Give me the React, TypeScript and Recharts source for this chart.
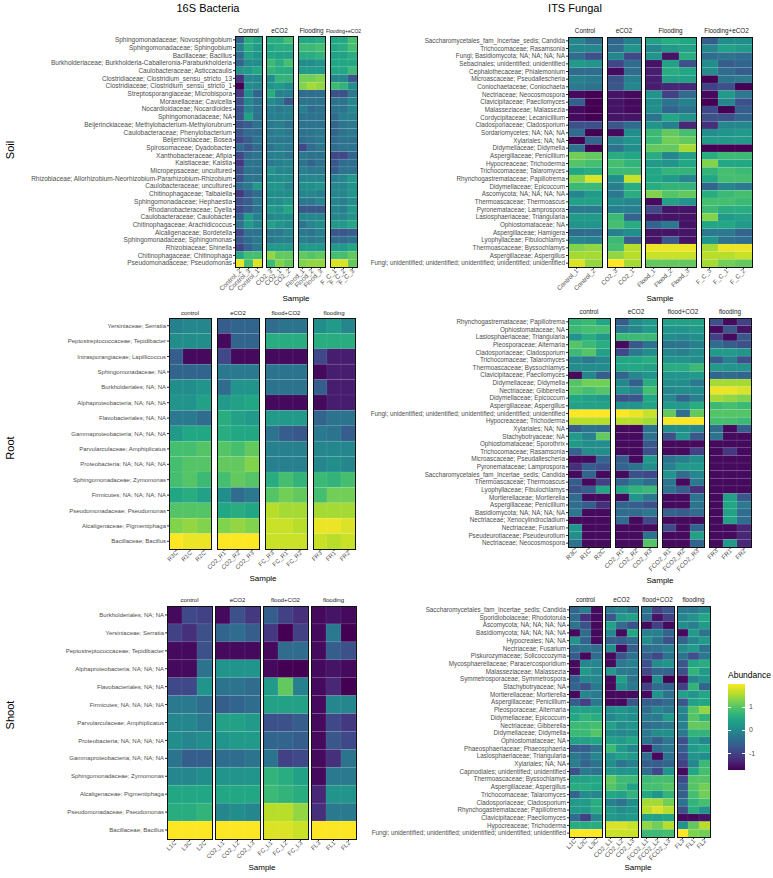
import { BarChart, Bar, XAxis, YAxis, Cell } from "recharts";

const FONT = "'Liberation Sans', Arial, Helvetica, sans-serif";

// ---------- facet names ----------
const soilFacets = ["Control", "eCO2", "Flooding", "Flooding+eCO2"];
const plantFacets = ["control", "eCO2", "flood+CO2", "flooding"];

// ---------- 16S soil ----------
const soil16sRows = [
  "Sphingomonadaceae; Novosphingobium", "Sphingomonadaceae; Sphingobium", "Bacillaceae; Bacillus",
  "Burkholderiaceae; Burkholderia-Caballeronia-Paraburkholderia", "Caulobacteraceae; Asticcacaulis",
  "Clostridiaceae; Clostridium_sensu_stricto_13", "Clostridiaceae; Clostridium_sensu_stricto_1",
  "Streptosporangiaceae; Microbispora", "Moraxellaceae; Cavicella", "Nocardioidaceae; Nocardioides",
  "Sphingomonadaceae; NA", "Beijerinckiaceae; Methylobacterium-Methylorubrum", "Caulobacteraceae; Phenylobacterium",
  "Beijerinckiaceae; Bosea", "Spirosomaceae; Dyadobacter", "Xanthobacteraceae; Afipia", "Kaistiaceae; Kaistia",
  "Micropepsaceae; uncultured", "Rhizobiaceae; Allorhizobium-Neorhizobium-Pararhizobium-Rhizobium",
  "Caulobacteraceae; uncultured", "Chitinophagaceae; Taibaiella", "Sphingomonadaceae; Hephaestia",
  "Rhodanobacteraceae; Dyella", "Caulobacteraceae; Caulobacter", "Chitinophagaceae; Arachidicoccus",
  "Alcaligenaceae; Bordetella", "Sphingomonadaceae; Sphingomonas", "Rhizobiaceae; Shinella",
  "Chitinophagaceae; Chitinophaga", "Pseudomonadaceae; Pseudomonas",
];
const soil16sSamples = ["Control_2", "Control_3", "Control_1", "CO2_3", "CO2_1", "CO2_2", "Flood_1", "Flood_2", "Flood_3", "F_C_1", "F_C_2", "F_C_3"];
const soil16sGroups = [3, 3, 3, 3];
const soil16sValues = [
  [-0.5, 0.6, 0.4, 0.6, 0.6, 0.9, 0.5, 0.5, 0.6, 0.5, 0.5, 0.9],
  [-0.1, 0.6, 0.3, 0.5, 0.6, 0.6, 0.8, 0.8, 0.9, 0.5, 0.6, 0.9],
  [-0.4, 0.4, 0.2, 0.5, 0.4, 0.4, 0.6, 0.6, 0.7, 0.4, 0.4, 0.6],
  [-0.5, 0.1, 0.1, 0.8, 0.6, 0.9, 0.1, 0.1, 0.2, 0.5, 0.5, 0.5],
  [0.2, 0.3, 0.5, 0.7, 0.6, 0.6, 0.3, 0.3, 0.3, 0.5, 0.5, 0.8],
  [-1.2, 0.0, 0.0, 0.1, 0.7, 0.7, 1.2, 1.2, 1.3, 0.0, 0.0, -0.7],
  [-1.7, 0.1, 0.0, 0.2, 0.3, 0.1, 1.3, 1.5, 1.4, 0.8, 0.7, 0.1],
  [-1.1, 0.1, -0.5, 0.6, -0.1, -0.1, -0.4, -0.4, -0.4, -0.8, -0.8, -0.2],
  [-0.8, 0.0, -0.3, 0.1, -0.1, -0.7, -0.3, -0.3, -0.3, -0.3, -0.3, 0.0],
  [-0.8, 0.0, -0.3, -0.1, -0.2, -0.1, -0.1, -0.4, -0.3, -0.3, -0.3, 0.0],
  [-0.7, 0.4, -0.3, -0.1, -0.1, -0.1, -0.3, -0.3, -0.3, -0.4, -0.1, -0.1],
  [-0.8, -0.6, -0.3, -0.2, -0.1, -0.3, -0.3, -0.3, -0.3, -0.5, -0.3, -0.2],
  [-0.7, -0.4, -0.4, -0.2, -0.1, -0.2, -0.3, -0.3, -0.2, -0.5, -0.3, -0.2],
  [-0.9, -0.6, -0.3, -0.2, -0.2, -0.2, -0.4, -0.3, -0.2, -0.4, -0.3, -0.3],
  [-0.4, -0.7, -0.4, -0.3, -0.1, -0.2, -0.9, -0.4, -0.2, -0.4, -0.3, -0.3],
  [-0.9, -0.4, -0.3, -0.1, -0.1, -0.2, -0.2, -0.3, -0.3, -0.9, -0.9, -0.5],
  [-1.1, -0.3, -0.3, -0.2, -0.1, 0.0, -0.3, -0.5, -0.3, -0.7, -0.4, -0.4],
  [-0.8, -0.3, -0.3, 0.2, 0.0, 0.0, -0.1, -0.2, -0.2, -0.6, -0.3, -0.3],
  [-0.8, -0.3, -0.3, 0.1, 0.1, 0.1, 0.0, 0.0, 0.0, -0.1, 0.0, 0.3],
  [-0.4, -0.2, 0.3, 0.2, 0.2, 0.0, 0.1, 0.1, 0.2, 0.0, 0.0, 0.2],
  [-1.1, -0.6, -0.4, 0.1, 0.1, 0.1, 0.0, 0.0, -0.1, 0.0, 0.0, 0.2],
  [-0.8, -0.6, -0.2, 0.1, 0.1, 0.3, -0.2, -0.2, 0.0, 0.0, -0.1, 0.1],
  [-0.9, -0.6, -0.3, 0.3, 0.2, 0.5, -0.7, -0.7, -0.7, 0.0, -0.1, 0.3],
  [-0.5, 0.3, -0.1, 0.0, 0.1, 0.1, 0.0, 0.0, 0.0, 0.0, 0.0, 0.2],
  [-0.3, 0.3, 0.0, 0.4, 0.2, 0.1, -0.3, 0.0, 0.1, 0.3, 0.3, 0.5],
  [-0.9, -0.3, -0.3, -0.2, -0.2, 0.0, -0.2, -0.3, -0.1, -0.7, -0.7, -0.6],
  [-0.7, -0.4, -0.2, -0.2, -0.1, -0.1, -0.1, -0.2, -0.1, -0.4, -0.4, -0.3],
  [-1.0, -0.5, -0.2, 0.3, 0.3, 0.3, 0.3, 0.3, 0.3, 0.3, 0.3, 0.5],
  [0.5, 0.9, 0.9, 1.4, 1.1, 1.1, 1.1, 1.0, 1.1, 0.9, 0.9, 1.1],
  [1.9, 0.9, 1.8, 0.8, 1.3, 1.1, 1.3, 1.4, 1.4, 1.8, 1.8, 1.1],
];

// ---------- ITS soil ----------
const soilItsRows = [
  "Saccharomycetales_fam_Incertae_sedis; Candida", "Trichocomaceae; Rasamsonia", "Fungi; Basidiomycota; NA; NA; NA; NA",
  "Sebacinales; unidentified; unidentified", "Cephalothecaceae; Phialemonium", "Microascaceae; Pseudallescheria",
  "Coniochaetaceae; Coniochaeta", "Nectriaceae; Neocosmospora", "Clavicipitaceae; Paecilomyces",
  "Malasseziaceae; Malassezia", "Cordycipitaceae; Lecanicillium", "Cladosporiaceae; Cladosporium",
  "Sordariomycetes; NA; NA; NA", "Xylariales; NA; NA", "Didymellaceae; Didymella", "Aspergillaceae; Penicillium",
  "Hypocreaceae; Trichoderma", "Trichocomaceae; Talaromyces", "Rhynchogastremataceae; Papiliotrema",
  "Didymellaceae; Epicoccum", "Ascomycota; NA; NA; NA; NA", "Thermoascaceae; Thermoascus",
  "Pyronemataceae; Lamprospora", "Lasiosphaeriaceae; Triangularia", "Ophiostomataceae; NA",
  "Aspergillaceae; Hamigera", "Lyophyllaceae; Fibulochlamys", "Thermoascaceae; Byssochlamys",
  "Aspergillaceae; Aspergillus", "Fungi; unidentified; unidentified; unidentified; unidentified; unidentified",
];
const soilItsSamples = ["Control_1", "Control_2", "CO2_3", "CO2_1", "Flood_1", "Flood_2", "Flood_3", "F_C_3", "F_C_1", "F_C_2"];
const soilItsGroups = [2, 2, 3, 3];
const soilItsValues = [
  [0.0, -0.4, -0.5, -0.1, 0.4, 0.6, 0.5, -0.6, 0.1, 0.1],
  [0.0, 0.0, -0.4, 0.2, 0.0, 0.3, 0.4, 0.0, 0.4, 0.3],
  [-0.4, -0.8, 0.0, -0.9, 0.2, -1.5, 0.6, -0.4, -0.3, -0.4],
  [0.3, 0.2, -0.9, -0.4, -1.5, 0.4, -0.8, 0.1, -0.6, -0.5],
  [-0.4, -0.4, -1.6, -0.4, -1.4, 0.6, 0.5, 0.1, -0.4, -0.6],
  [-0.1, -0.2, -0.8, -0.1, -1.4, 0.4, 0.4, -1.7, -0.3, -0.2],
  [-0.2, -0.3, -0.7, 0.0, -1.4, -1.3, -1.3, -1.0, -0.8, -1.7],
  [-1.6, -1.7, -1.5, -1.6, 0.2, -1.0, -0.4, -1.6, 0.3, -0.2],
  [-0.6, -1.7, -1.5, -1.6, 0.1, -0.3, -0.1, -1.7, 0.0, -0.8],
  [-1.6, -1.7, -1.5, -1.6, 0.1, -0.5, -0.3, -0.9, -1.7, -0.6],
  [-1.6, -1.7, -1.5, -1.5, -0.3, 0.5, 0.2, -0.8, -0.8, -0.5],
  [-0.8, -0.8, -0.7, -0.4, 0.2, -0.1, -1.3, -1.2, 0.0, 0.0],
  [-0.4, -1.7, -1.6, 0.1, 0.8, 1.1, 0.9, 0.1, 0.2, 0.3],
  [-1.7, -0.5, 0.0, 0.2, 0.8, 1.2, 1.1, 0.3, 0.3, 0.3],
  [-0.3, -1.7, -0.3, 0.1, 1.1, 1.1, 1.5, -1.7, -1.7, -1.7],
  [1.2, 1.1, 0.6, 0.5, 0.6, 0.0, 0.4, 0.6, 0.8, 0.8],
  [1.0, 0.9, 0.9, 0.7, 0.3, 0.2, 0.5, 1.3, 0.5, 0.5],
  [0.5, 0.6, 0.8, 0.8, 0.5, 0.7, 0.7, 0.7, 0.9, 0.8],
  [1.3, 1.8, 0.1, 1.7, 0.5, 0.3, 0.0, 0.5, 0.9, 0.9],
  [0.8, 0.8, -0.1, 0.6, 0.6, 0.7, 0.7, -0.5, 0.0, -0.2],
  [0.0, 0.3, -0.2, 0.6, 1.3, 1.0, 1.1, 0.6, 0.8, 0.9],
  [0.4, 0.4, 0.1, 0.0, -1.6, 0.4, 0.2, 0.9, 0.9, 0.8],
  [-0.2, -0.2, -0.1, -0.1, -0.9, -1.5, -1.5, 0.8, 0.6, 0.6],
  [0.3, 0.3, 0.8, -0.5, -1.5, -1.5, -1.5, 1.3, 0.3, 0.4],
  [0.2, 0.2, 0.9, 0.6, -0.5, -0.2, -1.5, 0.5, 0.5, 0.3],
  [-0.4, -0.4, -0.1, 0.1, -1.5, -1.5, -1.5, -0.2, -0.2, -0.5],
  [0.0, -0.1, 0.8, -0.6, -1.5, -0.7, -1.5, 0.2, -0.3, -0.4],
  [1.3, 1.4, 0.9, 1.6, 1.9, 1.9, 1.9, 1.5, 1.9, 1.9],
  [1.5, 1.5, 1.4, 1.6, 1.7, 1.7, 1.7, 1.6, 1.6, 1.7],
  [1.8, 1.4, 2.0, 1.5, 1.1, 1.1, 1.1, 1.5, 1.2, 1.1],
];

// ---------- 16S root ----------
const root16sRows = [
  "Yersiniaceae; Serratia", "Peptostreptococcaceae; Tepidibacter", "Intrasporangiaceae; Lapillicoccus",
  "Sphingomonadaceae; NA", "Burkholderiales; NA; NA", "Alphaproteobacteria; NA; NA; NA", "Flavobacteriales; NA; NA",
  "Gammaproteobacteria; NA; NA; NA", "Parvularculaceae; Amphiplicatus", "Proteobacteria; NA; NA; NA; NA",
  "Sphingomonadaceae; Zymomonas", "Firmicutes; NA; NA; NA; NA", "Pseudomonadaceae; Pseudomonas",
  "Alcaligenaceae; Pigmentiphaga", "Bacillaceae; Bacillus",
];
const root16sSamples = ["R3C", "R1C", "R2C", "CO2_R1", "CO2_R2", "CO2_R3", "FC_R3", "FC_R1", "FC_R2", "FR3", "FR1", "FR2"];
const root16sValues = [
  [-0.1, 0.0, 0.0, -0.6, -0.5, -0.5, -0.4, -0.3, -0.3, 0.1, 0.3, 0.0],
  [0.1, 0.1, 0.1, -1.6, -0.5, -0.5, 0.6, 0.6, 0.6, 0.6, 0.6, 0.6],
  [-0.6, -1.6, -1.6, -0.9, -1.6, -1.6, -1.6, -1.6, -1.6, -0.9, -1.4, -1.4],
  [-0.5, -0.5, -0.5, -0.2, -0.2, -0.2, -0.3, -0.3, -0.3, -1.6, -1.4, -1.4],
  [0.1, 0.1, 0.2, -0.4, 0.2, 0.2, -0.3, -0.3, -0.3, -0.6, -1.4, -1.4],
  [0.2, 0.2, 0.4, 0.3, 0.4, 0.5, -1.6, -1.6, -1.6, -1.6, -1.4, -1.4],
  [-0.2, -0.2, -0.4, 0.6, 0.4, 0.3, 0.3, 0.3, 0.3, -0.5, -0.3, -0.3],
  [0.3, 0.5, 0.5, 0.6, 0.5, 0.5, -0.3, -0.6, -0.7, -0.2, -0.3, -0.6],
  [0.9, 0.9, 1.0, 1.0, 0.9, 1.1, -0.1, -0.1, -0.1, 0.0, 0.0, 0.0],
  [0.9, 1.0, 1.0, 1.1, 1.1, 1.3, -0.1, -0.1, -0.1, 0.0, 0.1, 0.0],
  [0.9, 1.0, 0.8, 0.9, 1.1, 1.0, 0.6, 0.9, 0.7, 0.8, 0.7, 0.9],
  [0.5, 0.6, 0.4, 0.1, -0.4, -0.2, 1.0, 1.2, 1.1, 0.9, 1.2, 1.2],
  [1.0, 1.0, 1.0, 0.5, 0.6, 0.5, 1.6, 1.5, 1.5, 1.5, 1.5, 1.5],
  [1.3, 1.4, 1.3, 1.3, 1.4, 1.3, 1.7, 1.7, 1.6, 1.9, 1.9, 1.8],
  [2.0, 1.9, 1.9, 2.0, 2.0, 2.0, 1.7, 1.7, 1.7, 1.7, 1.6, 1.7],
];

// ---------- ITS root ----------
const rootItsRows = [
  "Rhynchogastremataceae; Papiliotrema", "Ophiostomataceae; NA", "Lasiosphaeriaceae; Triangularia",
  "Pleosporaceae; Alternaria", "Cladosporiaceae; Cladosporium", "Trichocomaceae; Talaromyces",
  "Thermoascaceae; Byssochlamys", "Clavicipitaceae; Paecilomyces", "Didymellaceae; Didymella",
  "Nectriaceae; Gibberella", "Didymellaceae; Epicoccum", "Aspergillaceae; Aspergillus",
  "Fungi; unidentified; unidentified; unidentified; unidentified; unidentified", "Hypocreaceae; Trichoderma",
  "Xylariales; NA; NA", "Stachybotryaceae; NA", "Ophiostomataceae; Sporothrix", "Trichocomaceae; Rasamsonia",
  "Microascaceae; Pseudallescheria", "Pyronemataceae; Lamprospora", "Saccharomycetales_fam_Incertae_sedis; Candida",
  "Thermoascaceae; Thermoascus", "Lyophyllaceae; Fibulochlamys", "Mortierellaceae; Mortierella",
  "Aspergillaceae; Penicillium", "Basidiomycota; NA; NA; NA; NA", "Nectriaceae; Xenocylindrocladium",
  "Nectriaceae; Fusarium", "Pseudeurotiaceae; Pseudeurotium", "Nectriaceae; Neocosmospora",
];
const rootItsSamples = ["R3C", "R1C", "R2C", "CO2_R1", "CO2_R2", "CO2_R3", "FCO2_R1", "FCO2_R2", "FCO2_R3", "FR3", "FR1", "FR2"];
const rootItsValues = [
  [0.7, 0.8, 0.5, -0.6, 0.1, 0.3, 0.4, 0.4, 0.4, -0.8, -1.6, -1.0],
  [0.8, 0.9, 0.9, -0.2, 0.0, 0.3, 0.2, 0.2, 0.3, -1.6, -0.7, -1.5],
  [0.2, 0.6, 0.3, 0.8, 0.8, 0.8, 0.1, 0.0, 0.1, -1.0, -1.6, -0.7],
  [1.0, 0.8, 0.6, -1.6, -0.7, -0.3, -0.3, -0.3, -0.1, -0.4, -0.6, -0.8],
  [0.8, 1.0, 0.4, -0.9, -0.2, 0.1, 0.0, -0.1, 0.1, 0.3, 0.3, 0.2],
  [0.0, -0.2, 0.0, 0.5, 0.5, 0.6, 0.2, 0.2, 0.1, -0.6, -0.1, -0.8],
  [0.1, 0.1, 0.1, 0.5, 0.5, 0.4, 0.6, 0.6, 0.8, 0.3, 0.2, 0.2],
  [-1.6, 0.0, -0.6, -0.5, 0.0, 0.2, 0.2, 0.2, 0.3, -0.5, -0.4, -0.5],
  [1.0, 1.2, 1.2, 0.0, -0.6, 0.6, 0.1, 0.1, -0.2, 1.5, 1.5, 1.5],
  [1.0, 0.9, 1.0, 0.2, 0.0, 0.9, 0.0, 0.1, 0.1, 1.9, 1.9, 1.8],
  [0.5, 0.4, 0.3, -0.8, -0.7, 0.5, 0.0, -0.5, -0.1, 1.5, 1.4, 1.3],
  [0.4, 0.4, 0.4, 0.2, 0.2, 0.4, 0.3, 0.3, 0.6, 0.8, 0.9, 0.8],
  [2.0, 2.0, 2.0, 2.0, 1.9, 1.7, 1.1, -0.4, 1.1, 1.0, 1.0, 1.0],
  [1.6, 1.6, 1.6, 1.6, 1.6, 1.5, 2.0, 2.0, 2.0, 0.9, 0.9, 0.8],
  [-0.6, -0.3, -0.4, -1.6, -1.6, -0.3, 0.1, 0.1, 0.0, -0.4, -1.6, -0.6],
  [0.3, -0.1, 1.1, -1.6, -1.6, -0.3, -0.8, 0.2, -0.7, -0.3, -1.6, -1.6],
  [0.3, 0.1, 0.1, -1.6, -1.6, -0.7, -1.6, -1.6, -1.6, -1.6, -1.6, -1.6],
  [-0.5, 0.1, 0.1, -1.6, -1.6, -0.8, -1.6, -1.6, -1.0, -1.6, -1.1, -1.6],
  [-1.6, -1.6, -0.5, -0.6, -1.6, 0.3, -0.3, -0.1, 0.1, -1.6, -1.6, -1.6],
  [-1.2, -0.6, -0.8, -0.5, -0.3, 0.1, -0.1, 0.3, 0.3, -1.6, -1.6, -1.6],
  [-1.6, -0.5, -1.6, -1.6, -0.8, -0.9, 0.2, -0.4, 0.0, -1.6, -1.6, -1.6],
  [-0.6, -1.6, -1.0, -0.5, -0.1, -0.4, -0.3, -1.6, -0.2, -1.6, -1.6, -1.6],
  [-0.8, -0.6, 0.5, 0.5, 0.7, 0.8, -0.3, -0.6, -1.2, -1.6, -1.6, -1.6],
  [-0.4, -1.6, -1.6, -1.6, 0.2, -0.2, -1.6, -1.6, -0.3, -1.6, 0.4, -0.7],
  [-0.4, -0.6, -1.2, -0.5, -0.6, -0.8, -1.6, -1.6, -0.3, -1.6, 0.5, -0.2],
  [-0.2, -1.6, -1.6, -0.4, -0.4, -0.2, -0.5, -0.6, -0.4, -1.6, 0.4, -0.4],
  [-1.6, -1.6, -1.6, -0.4, -1.6, -0.9, -1.6, -1.6, -1.6, -1.6, 0.4, -0.4],
  [0.2, -1.6, -1.6, -1.6, -1.6, -1.6, -0.9, -1.6, -0.5, -1.6, -1.6, -1.3],
  [0.1, -1.6, -1.6, -1.6, -1.6, -0.3, -1.6, -1.6, 0.4, -1.6, -1.6, -1.3],
  [-0.3, -1.6, -1.6, -1.6, -1.6, 1.0, -1.6, -1.6, -0.5, -1.6, 0.3, -1.3],
];

// ---------- 16S shoot ----------
const shoot16sRows = [
  "Burkholderiales; NA; NA", "Yersiniaceae; Serratia", "Peptostreptococcaceae; Tepidibacter",
  "Alphaproteobacteria; NA; NA; NA", "Flavobacteriales; NA; NA", "Firmicutes; NA; NA; NA; NA",
  "Parvularculaceae; Amphiplicatus", "Proteobacteria; NA; NA; NA; NA", "Gammaproteobacteria; NA; NA; NA",
  "Sphingomonadaceae; Zymomonas", "Alcaligenaceae; Pigmentiphaga", "Pseudomonadaceae; Pseudomonas",
  "Bacillaceae; Bacillus",
];
const shoot16sSamples = ["L1C", "L3C", "L2C", "CO2_L1", "CO2_L2", "CO2_L3", "FC_L1", "FC_L2", "FC_L3", "FL3", "FL1", "FL2"];
const shoot16sValues = [
  [-1.6, -0.9, -1.0, -1.6, -0.8, -1.1, -0.6, -1.0, -1.2, -1.6, -1.5, -1.6],
  [-1.0, -1.2, -0.8, -0.5, -0.4, -0.6, -1.1, -1.7, -1.0, -1.6, -0.2, -1.7],
  [-1.6, -1.6, -0.8, -1.6, -1.6, -1.6, -1.6, -0.4, -0.4, -1.6, -0.6, -0.8],
  [-1.6, -1.6, -0.3, 0.2, 0.2, 0.2, -1.6, -1.7, -1.7, -1.6, -1.5, -1.6],
  [-0.9, -0.9, 0.2, -0.3, -0.3, -0.4, 0.3, 1.1, -0.1, -1.6, -1.3, -1.7],
  [-0.2, -0.2, -0.4, -0.6, -0.5, -0.4, 0.4, 0.4, 0.4, -1.6, 0.0, 0.0],
  [0.0, 0.0, -0.2, 0.4, 0.4, 0.3, -0.8, -0.8, -0.6, -1.6, -0.9, -1.1],
  [0.1, 0.0, 0.1, 0.2, 0.3, 0.3, -0.5, -0.5, -0.6, -1.6, -0.7, -0.9],
  [-0.3, -0.6, -0.6, -0.4, -0.4, -0.3, -0.3, -1.0, -0.9, -1.6, -1.2, -0.3],
  [0.0, 0.0, 0.1, 0.2, 0.2, 0.2, 0.7, 0.6, 0.4, -1.6, -0.2, -0.2],
  [0.5, 0.5, 0.5, 0.5, 0.5, 0.5, 0.8, 0.7, 0.6, -1.3, 0.2, 0.2],
  [0.6, 0.6, 0.7, 0.0, 0.1, 0.0, 1.6, 1.6, 1.4, -1.2, -0.2, -0.2],
  [2.0, 2.0, 2.0, 2.0, 2.0, 2.0, 1.8, 1.8, 1.7, 2.0, 2.0, 2.0],
];

// ---------- ITS shoot ----------
const shootItsRows = [
  "Saccharomycetales_fam_Incertae_sedis; Candida", "Sporidiobolaceae; Rhodotorula", "Ascomycota; NA; NA; NA; NA",
  "Basidiomycota; NA; NA; NA; NA", "Hypocreales; NA; NA", "Nectriaceae; Fusarium", "Piskurozymaceae; Solicoccozyma",
  "Mycosphaerellaceae; Paracercosporidium", "Malasseziaceae; Malassezia", "Symmetrosporaceae; Symmetrospora",
  "Stachybotryaceae; NA", "Mortierellaceae; Mortierella", "Aspergillaceae; Penicillium", "Pleosporaceae; Alternaria",
  "Didymellaceae; Epicoccum", "Nectriaceae; Gibberella", "Didymellaceae; Didymella", "Ophiostomataceae; NA",
  "Phaeosphaeriaceae; Phaeosphaeria", "Lasiosphaeriaceae; Triangularia", "Xylariales; NA; NA",
  "Capnodiales; unidentified; unidentified", "Thermoascaceae; Byssochlamys", "Aspergillaceae; Aspergillus",
  "Trichocomaceae; Talaromyces", "Cladosporiaceae; Cladosporium", "Rhynchogastremataceae; Papiliotrema",
  "Clavicipitaceae; Paecilomyces", "Hypocreaceae; Trichoderma",
  "Fungi; unidentified; unidentified; unidentified; unidentified; unidentified",
];
const shootItsSamples = ["L1C", "L2C", "L3C", "CO2_L1", "CO2_L2", "CO2_L3", "FCO2_L1", "FCO2_L2", "FCO2_L3", "FL3", "FL1", "FL2"];
const shootItsValues = [
  [-0.5, -0.1, -1.6, -0.2, 0.0, -0.3, -0.3, -1.0, -0.7, -0.2, -0.2, 0.0],
  [-0.4, -1.2, -1.6, -0.7, 0.3, 0.4, -0.4, -1.5, -1.0, 0.0, 0.2, 0.5],
  [-0.3, -0.8, -1.6, 0.4, -0.4, -0.8, -1.6, -1.0, -1.6, 0.1, -0.1, 0.3],
  [-1.6, -0.4, -1.6, 0.0, -1.6, 0.5, -0.1, -0.1, -0.5, -1.6, 0.3, -0.3],
  [0.2, -0.5, -1.6, -0.6, -0.6, -0.4, 0.1, -0.3, -0.8, -0.5, 0.0, 0.3],
  [-0.4, -0.3, -0.4, 0.1, -1.6, -0.6, -0.4, -0.3, -0.1, 0.1, 0.3, -0.3],
  [-0.6, -1.6, -0.4, -1.6, -0.7, -0.3, -0.6, -0.9, -0.3, -0.3, -0.8, -0.2],
  [-1.6, 0.0, 0.0, -1.6, -0.2, -0.1, -0.8, 0.1, 0.2, -0.7, 0.5, 0.6],
  [-1.6, 0.3, 0.0, 0.3, -0.2, -0.2, -0.9, -0.5, -0.5, -0.8, 0.7, 0.3],
  [-0.6, 0.0, 0.0, -1.6, 0.4, -0.3, -1.7, 0.1, -1.7, -1.6, 0.0, 0.2],
  [-0.5, -0.8, -0.2, -1.6, 0.1, -0.2, -1.0, -0.4, -0.5, -1.0, 0.7, -0.5],
  [-1.6, 0.0, -0.2, -1.6, -1.6, -1.6, -1.6, 0.2, -0.3, 0.4, 0.2, 0.5],
  [-0.6, -1.0, -0.2, -1.6, -1.6, -0.7, -0.6, -0.6, -0.4, -0.7, 0.4, 0.5],
  [0.4, 0.4, 0.4, 0.1, 0.2, 0.1, -0.4, 0.0, -0.2, 0.0, 1.0, 1.4],
  [0.5, 0.7, 0.6, 0.0, 0.2, 0.1, -0.2, -0.2, 0.3, -0.1, 1.0, 0.7],
  [0.8, 0.8, 0.9, 0.4, 0.1, 0.2, -0.4, -0.3, -0.2, -0.1, 1.1, 1.1],
  [0.8, 0.8, 1.0, 0.1, 0.0, 0.1, -0.2, 0.1, 0.1, -0.2, 0.7, 0.7],
  [0.4, 0.4, 0.5, 0.4, 0.3, 0.5, -0.3, -0.6, -0.2, -0.8, 0.3, 0.0],
  [-0.6, -0.6, -0.3, 0.8, 0.3, 0.0, -1.6, -0.4, -0.2, -0.6, 0.3, 0.5],
  [-0.2, -0.4, 0.0, 0.2, 0.4, 0.3, -0.4, -1.6, -0.3, -0.8, 0.2, 0.1],
  [-0.1, -0.5, -0.3, 0.1, -0.3, -0.1, -0.6, -0.6, -0.5, -1.0, 0.0, 0.8],
  [-0.8, -0.2, -0.3, 0.3, 0.2, 0.2, -0.4, -0.9, 0.2, -1.6, 0.5, 0.9],
  [0.4, 0.4, 0.5, 1.1, 0.8, 0.8, 0.8, 0.9, 0.9, -0.9, 1.0, 1.0],
  [0.6, 0.6, 0.5, 1.0, 0.8, 0.4, 0.9, 0.9, 1.0, -0.6, 1.0, 1.2],
  [-0.5, 0.1, 0.0, 0.5, 0.4, 0.7, 0.5, 0.2, 0.7, -0.6, 0.9, 1.2],
  [0.3, 0.3, 0.6, -0.1, -0.3, 0.1, 1.5, 1.5, 1.2, -0.3, 0.7, 0.9],
  [0.3, 0.3, 0.6, 0.3, 0.1, 0.2, 1.6, 1.8, 1.6, -0.8, 0.6, 0.2],
  [-0.4, -1.0, 0.0, 0.3, 0.2, 0.3, 0.4, 0.4, 0.5, -1.6, -1.6, -1.5],
  [0.6, 0.6, 0.6, 1.8, 1.8, 1.7, 1.4, 1.2, 1.6, 0.2, 1.1, 1.6],
  [2.0, 2.0, 2.0, 1.7, 1.7, 1.7, 0.8, 0.8, 0.9, 2.0, 1.3, 1.2],
];

const plantGroups = [3, 3, 3, 3];
const legendTicks = [1, 0, -1];

// ---------- colour scale ----------
const VIRIDIS = ["#440154", "#482475", "#414487", "#355f8d", "#2a788e", "#21918c", "#22a884", "#44bf70", "#7ad151", "#bddf26", "#fde725"];
const LOW = -1.7;
const HIGH = 2.0;

function hex(h: string) {
  return [parseInt(h.slice(1, 3), 16), parseInt(h.slice(3, 5), 16), parseInt(h.slice(5, 7), 16)];
}

function viridis(v: number) {
  const t = Math.min(1, Math.max(0, (v - LOW) / (HIGH - LOW))) * (VIRIDIS.length - 1);
  const i = Math.min(VIRIDIS.length - 2, Math.floor(t));
  const f = t - i;
  const a = hex(VIRIDIS[i]);
  const b = hex(VIRIDIS[i + 1]);
  const c = a.map((x, k) => Math.round(x + (b[k] - x) * f));
  return `rgb(${c[0]},${c[1]},${c[2]})`;
}

function SampleTick(props: any) {
  const { x, y, payload, fs } = props;
  return (
    <text
      transform={`translate(${x + 1},${y}) rotate(-45)`}
      textAnchor="end"
      fontSize={fs}
      fontFamily={FONT}
      fill="#4d4d4d"
      dy={fs * 0.3}
    >
      {payload.value}
    </text>
  );
}

function RowTick(props: any) {
  const { x, y, payload, fs, rows } = props;
  return (
    <text x={x} y={y} textAnchor="end" dy={fs * 0.35} fontSize={fs} fontFamily={FONT} fill="#4d4d4d">
      {rows[Math.floor(payload.value)]}
    </text>
  );
}

const PAD = 60; // room left of a facet so rotated tick labels are not clipped

type FacetProps = {
  rows: string[];
  samples: string[];
  values: number[][];
  left: number;
  top: number;
  colW: number;
  height: number;
  labelW: number;
  showY: boolean;
  fs: number;
};

function Facet(p: FacetProps) {
  const n = p.rows.length;
  const data = p.samples.map((s) => {
    const d: Record<string, any> = { sample: s };
    p.rows.forEach((_, ri) => (d["r" + ri] = 1));
    return d;
  });
  const yw = p.showY ? p.labelW : 0;
  const pad = p.showY ? 0 : PAD;
  const w = p.colW * p.samples.length;
  const xh = 40;
  return (
    <div style={{ position: "absolute", left: p.left - yw - pad, top: p.top }}>
      <BarChart
        width={w + yw + pad}
        height={p.height + xh}
        data={data}
        margin={{ top: 0, right: 0, bottom: 0, left: pad }}
        barCategoryGap={0}
        barGap={0}
      >
        <XAxis
          dataKey="sample"
          height={xh}
          interval={0}
          axisLine={false}
          tickSize={2}
          tickMargin={1}
          tickLine={{ stroke: "#333" }}
          tick={<SampleTick fs={p.fs} />}
        />
        <YAxis
          type="number"
          domain={[0, n]}
          reversed
          hide={!p.showY}
          width={yw}
          interval={0}
          ticks={p.rows.map((_, i) => i + 0.5)}
          axisLine={false}
          tickSize={2}
          tickMargin={1}
          tickLine={{ stroke: "#333" }}
          tick={<RowTick fs={p.fs} rows={p.rows} />}
        />
        {p.rows.map((_, ri) => (
          <Bar key={ri} dataKey={"r" + ri} stackId="s" isAnimationActive={false}>
            {p.samples.map((s, si) => (
              <Cell key={s} fill={viridis(p.values[ri][si])} stroke="rgba(255,255,255,0.12)" strokeWidth={0.5} />
            ))}
          </Bar>
        ))}
      </BarChart>
      <div
        style={{
          position: "absolute",
          left: yw + pad - 0.5,
          top: -0.5,
          width: w + 1,
          height: p.height + 1,
          border: "1.3px solid #111",
          boxSizing: "border-box",
          pointerEvents: "none",
        }}
      />
    </div>
  );
}

type PanelProps = {
  rows: string[];
  samples: string[];
  values: number[][];
  facets: string[];
  groups: number[];
  starts: number[];
  colW: number;
  top: number;
  height: number;
  fs: number;
  stripY: number;
  stripFs?: number[];
  sampleX: number;
  sampleY: number;
};

function Panel(p: PanelProps) {
  let offset = 0;
  return (
    <>
      {p.facets.map((f, fi) => {
        const count = p.groups[fi];
        const from = offset;
        offset += count;
        const left = p.starts[fi];
        const w = count * p.colW;
        return (
          <div key={f}>
            <div
              style={{
                position: "absolute",
                left: left - 10,
                width: w + 20,
                top: p.stripY - 5,
                height: 10,
                lineHeight: "10px",
                textAlign: "center",
                fontSize: p.stripFs ? p.stripFs[fi] : p.fs,
                color: "#1a1a1a",
                whiteSpace: "nowrap",
                fontFamily: FONT,
              }}
            >
              {f}
            </div>
            <Facet
              rows={p.rows}
              samples={p.samples.slice(from, from + count)}
              values={p.values.map((r) => r.slice(from, from + count))}
              left={left}
              top={p.top}
              colW={p.colW}
              height={p.height}
              labelW={230}
              showY={fi === 0}
              fs={p.fs}
            />
          </div>
        );
      })}
      <div
        style={{
          position: "absolute",
          left: p.sampleX - 40,
          width: 80,
          top: p.sampleY - 6,
          textAlign: "center",
          fontSize: 8,
          fontFamily: FONT,
          color: "#000",
        }}
      >
        Sample
      </div>
    </>
  );
}

function SideLabel({ text, y }: { text: string; y: number }) {
  return (
    <div
      style={{
        position: "absolute",
        left: 10 - 30,
        top: y - 7,
        width: 60,
        height: 14,
        lineHeight: "14px",
        textAlign: "center",
        transform: "rotate(-90deg)",
        fontSize: 11,
        fontFamily: FONT,
        color: "#000",
      }}
    >
      {text}
    </div>
  );
}

export default function App() {
  const barTop = 684;
  const barH = 86;
  const toY = (v: number) => barTop + ((HIGH - v) / (HIGH - LOW)) * barH;
  return (
    <div style={{ position: "absolute", left: 0, top: 0, width: 773, height: 878, background: "#fff", overflow: "hidden", fontFamily: FONT }}>
      <div style={{ position: "absolute", left: 148, width: 120, top: 2, textAlign: "center", fontSize: 11 }}>16S Bacteria</div>
      <div style={{ position: "absolute", left: 515, width: 120, top: 2, textAlign: "center", fontSize: 11 }}>ITS Fungal</div>

      <SideLabel text="Soil" y={150} />
      <SideLabel text="Root" y={448} />
      <SideLabel text="Shoot" y={715} />

      <Panel rows={soil16sRows} samples={soil16sSamples} values={soil16sValues} facets={soilFacets} groups={soil16sGroups}
        starts={[235, 266, 298, 330]} colW={9} top={36} height={231} fs={6.5} stripY={31} stripFs={[6.3, 6.3, 6.3, 5]}
        sampleX={296} sampleY={300} />
      <Panel rows={soilItsRows} samples={soilItsSamples} values={soilItsValues} facets={soilFacets} groups={soilItsGroups}
        starts={[568, 607, 645, 701]} colW={17} top={37} height={230} fs={6.3} stripY={31} sampleX={660} sampleY={300} />

      <Panel rows={root16sRows} samples={root16sSamples} values={root16sValues} facets={plantFacets} groups={plantGroups}
        starts={[169, 217, 265, 313]} colW={14} top={318} height={231} fs={6} stripY={313} sampleX={263} sampleY={580} />
      <Panel rows={rootItsRows} samples={rootItsSamples} values={rootItsValues} facets={plantFacets} groups={plantGroups}
        starts={[568, 615, 662, 709]} colW={14} top={318} height={229} fs={6.3} stripY={312} sampleX={660} sampleY={582} />

      <Panel rows={shoot16sRows} samples={shoot16sSamples} values={shoot16sValues} facets={plantFacets} groups={plantGroups}
        starts={[167, 215, 263, 311]} colW={15} top={606} height={233} fs={6} stripY={600} sampleX={262} sampleY={869} />
      <Panel rows={shootItsRows} samples={shootItsSamples} values={shootItsValues} facets={plantFacets} groups={plantGroups}
        starts={[569, 605, 641, 677]} colW={11} top={606} height={231} fs={6.3} stripY={600} sampleX={638} sampleY={869} />

      {/* legend */}
      <div style={{ position: "absolute", left: 728, top: 670, fontSize: 8.5, color: "#000" }}>Abundance</div>
      <div
        style={{
          position: "absolute",
          left: 728,
          top: barTop,
          width: 17,
          height: barH,
          background: `linear-gradient(to bottom, ${[...VIRIDIS].reverse().join(",")})`,
        }}
      />
      {legendTicks.map((t) => (
        <div key={t}>
          <div style={{ position: "absolute", left: 728, top: toY(t) - 0.5, width: 3, height: 1, background: "#fff" }} />
          <div style={{ position: "absolute", left: 742, top: toY(t) - 0.5, width: 3, height: 1, background: "#fff" }} />
          <div style={{ position: "absolute", left: 749, top: toY(t) - 5, height: 10, lineHeight: "10px", fontSize: 7, color: "#4d4d4d" }}>
            {t}
          </div>
        </div>
      ))}
    </div>
  );
}
